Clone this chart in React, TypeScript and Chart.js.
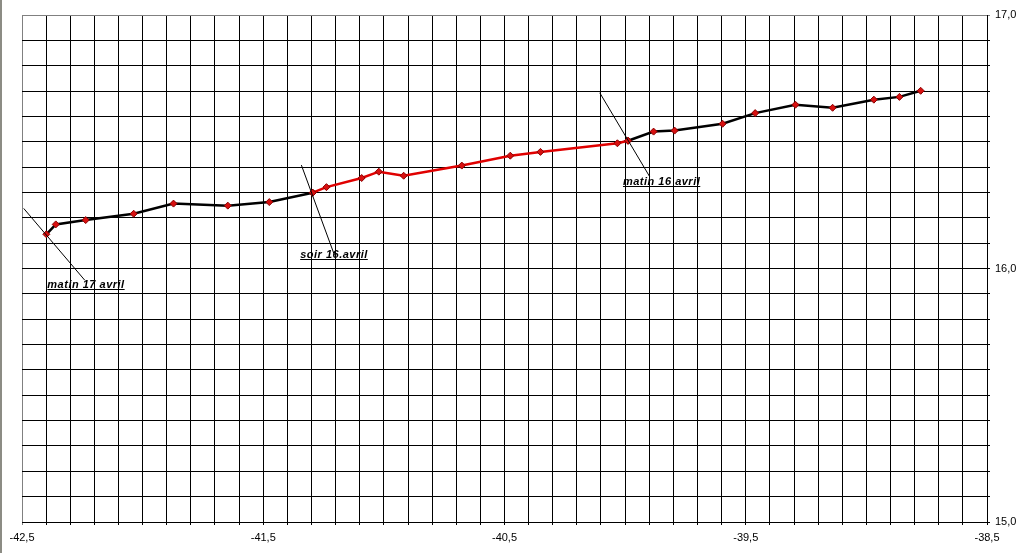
import React, { useEffect, useRef } from "react";
import { Chart, registerables } from "chart.js";

Chart.register(...registerables);

// Axis tick labels (shown every whole unit, gridlines every 0.1)
const xTickLabels = ["-42,5", "-41,5", "-40,5", "-39,5", "-38,5"];
const yTickLabels = ["15,0", "16,0", "17,0"];

// Track segments (longitude / latitude)
const nightLon = [-42.399, -42.36, -42.236, -42.037, -41.872, -41.647, -41.475, -41.295];
const nightLat = [16.135, 16.174, 16.191, 16.216, 16.256, 16.248, 16.262, 16.299];

const dayLon = [-41.295, -41.238, -41.092, -41.021, -40.918, -40.677, -40.476, -40.351, -40.032, -39.988];
const dayLat = [16.299, 16.321, 16.357, 16.382, 16.366, 16.406, 16.445, 16.46, 16.494, 16.504];

const earlyLon = [-39.988, -39.882, -39.795, -39.596, -39.461, -39.294, -39.14, -38.969, -38.863, -38.775];
const earlyLat = [16.504, 16.54, 16.544, 16.571, 16.613, 16.646, 16.634, 16.666, 16.677, 16.701];

// Annotations (data coordinates)
const noteLabels = ["matin 17 avril", "soir 16.avril", "matin 16 avril"];
const noteFromLon = [-42.493, -41.342, -40.105];
const noteFromLat = [16.237, 16.408, 16.693];
const noteToLon = [-42.24, -41.208, -39.898];
const noteToLat = [15.954, 16.061, 16.362];
const noteTextLon = [-42.395, -41.347, -40.009];
const noteTextLat = [15.923, 16.041, 16.329];

const toPoints = (xs: number[], ys: number[]) => xs.map((x, i) => ({ x, y: ys[i] }));

const annotationPlugin = {
  id: "notes",
  afterDraw(chart: any) {
    const { ctx, scales } = chart;
    const xs = scales.x;
    const ys = scales.y;
    ctx.save();
    ctx.strokeStyle = "#000";
    ctx.lineWidth = 1;
    for (let i = 0; i < noteLabels.length; i++) {
      ctx.beginPath();
      ctx.moveTo(xs.getPixelForValue(noteFromLon[i]), ys.getPixelForValue(noteFromLat[i]));
      ctx.lineTo(xs.getPixelForValue(noteToLon[i]), ys.getPixelForValue(noteToLat[i]));
      ctx.stroke();
    }
    ctx.font = "italic bold 11px 'Liberation Sans', Arial, sans-serif";
    try {
      (ctx as any).letterSpacing = "0.5px";
    } catch (e) {}
    ctx.fillStyle = "#000";
    ctx.textBaseline = "alphabetic";
    ctx.textAlign = "left";
    for (let i = 0; i < noteLabels.length; i++) {
      const tx = xs.getPixelForValue(noteTextLon[i]);
      const ty = ys.getPixelForValue(noteTextLat[i]);
      ctx.fillText(noteLabels[i], tx, ty);
      const w = ctx.measureText(noteLabels[i]).width;
      ctx.beginPath();
      ctx.moveTo(tx, Math.round(ty) + 1.5);
      ctx.lineTo(tx + w, Math.round(ty) + 1.5);
      ctx.stroke();
    }
    ctx.restore();
  },
};

export default function App() {
  const ref = useRef<HTMLCanvasElement | null>(null);

  useEffect(() => {
    if (!ref.current) return;
    Chart.defaults.font.family = "'Liberation Sans', Arial, sans-serif";
    Chart.defaults.font.size = 11;
    Chart.defaults.color = "#000";

    const pointStyle = {
      pointStyle: "rectRot" as const,
      pointRadius: 3.5,
      pointBackgroundColor: "#d81010",
      pointBorderColor: "#8a0000",
      pointBorderWidth: 1,
    };

    const chart = new Chart(ref.current, {
      type: "line",
      data: {
        datasets: [
          {
            data: toPoints(nightLon, nightLat),
            borderColor: "#000",
            borderWidth: 2.5,
            tension: 0,
            ...pointStyle,
          },
          {
            data: toPoints(earlyLon, earlyLat),
            borderColor: "#000",
            borderWidth: 2.5,
            tension: 0,
            ...pointStyle,
          },
          {
            data: toPoints(dayLon, dayLat),
            borderColor: "#e00000",
            borderWidth: 2.5,
            tension: 0,
            ...pointStyle,
          },
        ],
      },
      options: {
        responsive: false,
        animation: false,
        layout: { padding: { left: 22, top: 15, right: 0, bottom: 0 } },
        plugins: { legend: { display: false }, tooltip: { enabled: false } },
        scales: {
          x: {
            type: "linear",
            min: -42.5,
            max: -38.5,
            afterFit: (s: any) => {
              s.height = 31;
            },
            border: { color: "#000", width: 1 },
            grid: {
              color: (c: any) => (c.index === 0 ? "#808080" : "#000"),
              lineWidth: 1,
              tickLength: 3,
            },
            ticks: {
              stepSize: 0.1,
              autoSkip: false,
              maxRotation: 0,
              padding: 6,
              color: "#000",
              callback: (_v: any, i: number) => (i % 10 === 0 ? xTickLabels[i / 10] : ""),
            },
          },
          y: {
            type: "linear",
            position: "right",
            min: 15,
            max: 17,
            afterFit: (s: any) => {
              s.width = 37;
            },
            border: { color: "#000", width: 1 },
            grid: {
              color: (c: any) => (c.index === 20 ? "#808080" : "#000"),
              lineWidth: 1,
              tickLength: 3,
            },
            ticks: {
              stepSize: 0.1,
              autoSkip: false,
              padding: 5,
              color: "#000",
              callback: (_v: any, i: number) => (i % 10 === 0 ? yTickLabels[i / 10] : ""),
            },
          },
        },
      },
      plugins: [annotationPlugin],
    });
    return () => chart.destroy();
  }, []);

  return (
    <div style={{ position: "fixed", left: 0, top: 0, width: 1024, height: 553, background: "#fff" }}>
      <div style={{ position: "absolute", left: 0, top: 0, width: 2, height: 553, background: "#8c8c84" }} />
      <canvas ref={ref} width={1024} height={553} style={{ display: "block" }} />
    </div>
  );
}
